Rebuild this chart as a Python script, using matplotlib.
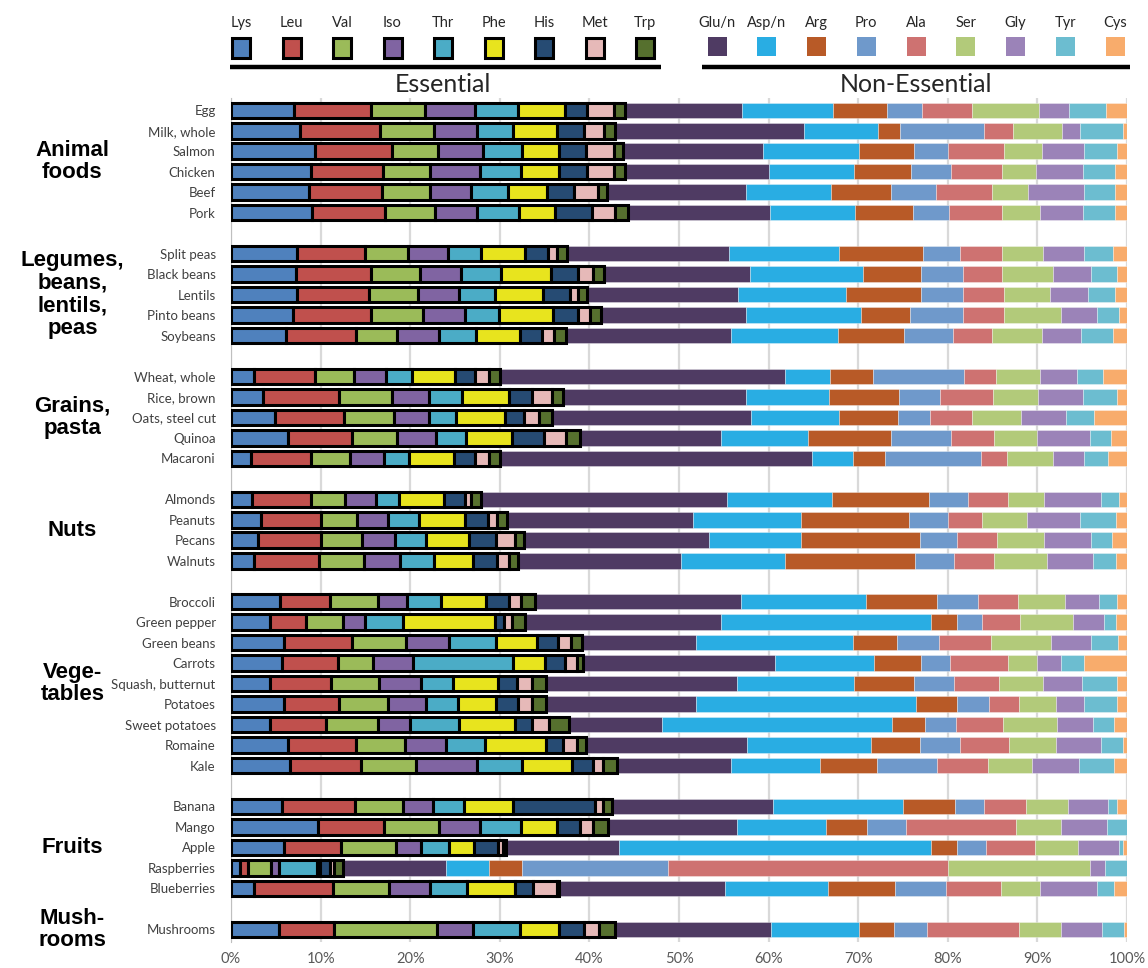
import numpy as np
import matplotlib
matplotlib.use("Agg")
import matplotlib.pyplot as plt
from matplotlib.patches import Rectangle

plt.rcParams['font.family'] = ['Lato', 'DejaVu Sans']

# food groups (label, number of foods)
group_labels = ["Animal\nfoods", "Legumes,\nbeans,\nlentils,\npeas", "Grains,\npasta", "Nuts",
                "Vege-\ntables", "Fruits", "Mush-\nrooms"]
group_sizes = [6, 5, 5, 4, 9, 5, 1]

foods = ["Egg", "Milk, whole", "Salmon", "Chicken", "Beef", "Pork",
         "Split peas", "Black beans", "Lentils", "Pinto beans", "Soybeans",
         "Wheat, whole", "Rice, brown", "Oats, steel cut", "Quinoa", "Macaroni",
         "Almonds", "Peanuts", "Pecans", "Walnuts",
         "Broccoli", "Green pepper", "Green beans", "Carrots", "Squash, butternut",
         "Potatoes", "Sweet potatoes", "Romaine", "Kale",
         "Banana", "Mango", "Apple", "Raspberries", "Blueberries",
         "Mushrooms"]

ess_names = ["Lys", "Leu", "Val", "Iso", "Thr", "Phe", "His", "Met", "Trp"]
ess_colors = ["#4f81bd", "#c0504d", "#9bbb59", "#8064a2", "#4bacc6",
              "#e8e41e", "#264b73", "#e6b9b8", "#56702e"]
non_names = ["Glu/n", "Asp/n", "Arg", "Pro", "Ala", "Ser", "Gly", "Tyr", "Cys"]
non_colors = ["#4f3b63", "#29ade3", "#b85a27", "#6f99cb", "#ce7271",
              "#b2ca7a", "#9b83b8", "#6cbdd0", "#f8ac6c"]

# % of total amino acids, in the order of `foods`
lys = [7.0, 7.7, 9.4, 8.9, 8.7, 9.05, 7.4, 7.2, 7.4, 6.95, 6.1, 2.55, 3.6, 4.9, 6.4, 2.2, 2.35, 3.4,
       3.05, 2.6, 5.5, 4.3, 5.9, 5.7, 4.3, 5.9, 4.3, 6.35, 6.6, 5.75, 9.75, 5.9, 1.05, 2.6, 5.4]
leu = [8.6, 8.9, 8.55, 8.0, 8.2, 8.2, 7.55, 8.4, 8.0, 8.65, 7.8, 6.8, 8.45, 7.75, 7.15, 6.7, 6.55, 6.6,
       7.0, 7.25, 5.5, 4.05, 7.6, 6.2, 6.9, 6.2, 6.35, 7.6, 7.9, 8.05, 7.3, 6.35, 0.85, 8.8, 6.05]
val = [6.1, 6.1, 5.2, 5.3, 5.3, 5.5, 4.85, 5.45, 5.45, 5.85, 4.65, 4.35, 5.95, 5.55, 5.0, 4.4, 3.8, 4.05,
       4.55, 5.05, 5.4, 4.2, 6.05, 3.95, 5.3, 5.45, 5.7, 5.5, 6.2, 5.45, 6.2, 6.2, 2.55, 6.2, 11.5]
iso = [5.5, 4.8, 4.95, 5.6, 4.55, 4.75, 4.45, 4.6, 4.65, 4.65, 4.65, 3.55, 4.1, 3.9, 4.3, 3.75, 3.45, 3.45,
       3.65, 3.95, 3.25, 2.4, 4.75, 4.5, 4.7, 4.2, 3.65, 4.5, 6.7, 3.3, 4.5, 2.75, 0.9, 4.6, 4.0]
thr = [4.8, 4.0, 4.35, 4.5, 4.2, 4.7, 3.7, 4.45, 4.0, 3.8, 4.1, 2.95, 3.65, 3.0, 3.35, 2.75, 2.6, 3.45,
       3.5, 3.8, 3.8, 4.3, 5.3, 11.1, 3.6, 3.6, 5.45, 4.35, 5.05, 3.45, 4.6, 3.1, 4.25, 4.15, 5.3]
phe = [5.3, 4.9, 4.2, 4.3, 4.3, 4.0, 4.85, 5.65, 5.3, 6.05, 4.9, 4.85, 5.3, 5.45, 5.2, 5.05, 5.0, 5.15,
       4.85, 4.4, 5.0, 10.2, 4.55, 3.6, 5.0, 4.25, 6.2, 6.85, 5.65, 5.5, 4.0, 2.85, 0.35, 5.3, 4.35]
his = [2.5, 3.0, 3.0, 3.1, 3.1, 4.1, 2.6, 3.0, 3.1, 2.8, 2.55, 2.15, 2.5, 2.1, 3.55, 2.3, 2.35, 2.5,
       3.0, 2.6, 2.55, 1.05, 2.35, 2.2, 2.1, 2.4, 1.95, 1.95, 2.25, 9.2, 2.6, 2.7, 1.1, 2.05, 2.75]
met = [3.0, 2.2, 3.1, 3.0, 2.65, 2.6, 0.95, 1.65, 0.85, 1.3, 1.25, 1.6, 2.3, 1.7, 2.5, 1.6, 0.7, 1.05,
       2.05, 1.4, 1.4, 0.85, 1.4, 1.4, 1.7, 1.6, 1.9, 1.5, 1.2, 0.8, 1.4, 0.5, 0.5, 2.6, 1.7]
trp = [1.2, 1.3, 1.05, 1.2, 0.95, 1.4, 1.1, 1.2, 1.0, 1.2, 1.4, 1.25, 1.2, 1.5, 1.5, 1.25, 1.05, 1.15,
       1.05, 1.05, 1.6, 1.45, 1.25, 0.7, 1.6, 1.6, 2.2, 1.05, 1.5, 1.05, 1.7, 0.4, 0.9, 0.3, 1.8]

glu = [13.1, 21.1, 15.6, 16.05, 15.55, 15.9, 18.15, 16.3, 16.9, 16.25, 18.4, 31.8, 20.45, 22.2, 15.75,
       34.8, 27.5, 20.75, 20.6, 18.15, 22.9, 21.9, 12.8, 21.35, 21.3, 16.7, 10.35, 17.9, 12.75, 17.95,
       14.4, 12.55, 11.5, 18.5, 17.4]
asp = [10.1, 8.2, 10.7, 9.5, 9.45, 9.5, 12.25, 12.6, 12.0, 12.8, 12.0, 5.05, 9.25, 9.8, 9.75, 4.6,
       11.65, 12.0, 10.3, 11.6, 14.0, 23.4, 17.5, 11.15, 13.0, 24.6, 25.65, 13.9, 9.95, 14.5, 9.95,
       34.9, 4.85, 11.45, 9.8]
arg = [6.1, 2.5, 6.1, 6.4, 6.7, 6.5, 9.35, 6.5, 8.4, 5.45, 7.3, 4.8, 7.8, 6.6, 9.25, 3.5, 10.85, 12.05,
       13.25, 14.5, 7.95, 2.95, 4.85, 5.25, 6.75, 4.55, 3.75, 5.5, 6.3, 5.85, 4.55, 2.9, 3.65, 7.5, 3.95]
pro = [3.9, 9.3, 3.8, 4.45, 5.1, 4.0, 4.2, 4.65, 4.65, 5.9, 5.45, 10.15, 4.55, 3.6, 6.7, 10.75, 4.4,
       4.3, 4.2, 4.4, 4.6, 2.75, 4.7, 3.15, 4.4, 3.6, 3.45, 4.4, 6.8, 3.25, 4.4, 3.15, 16.3, 5.7, 3.65]
ala = [5.5, 3.3, 6.3, 5.7, 6.25, 5.9, 4.65, 4.4, 4.65, 4.65, 4.4, 3.5, 5.85, 4.6, 4.8, 2.9, 4.4, 3.8,
       4.4, 4.4, 4.4, 4.3, 5.8, 6.5, 5.1, 3.25, 5.25, 5.5, 5.65, 4.7, 12.25, 5.5, 31.25, 6.05, 10.2]
ser = [7.5, 5.5, 4.25, 3.8, 4.05, 4.2, 4.6, 5.7, 5.05, 6.3, 5.6, 4.9, 5.05, 5.55, 4.85, 5.1, 4.0, 5.1,
       5.25, 6.0, 5.25, 5.85, 6.75, 3.3, 4.85, 4.2, 5.95, 5.25, 4.85, 4.7, 5.0, 4.85, 15.85, 4.4, 4.75]
gly = [3.4, 1.9, 4.7, 5.2, 6.25, 4.85, 4.6, 4.2, 4.35, 4.0, 4.35, 4.2, 5.05, 5.0, 5.9, 3.5, 6.35, 5.85,
       5.25, 5.15, 3.85, 3.45, 4.4, 2.65, 4.4, 3.15, 4.1, 4.95, 5.25, 4.4, 5.1, 4.55, 1.65, 6.35, 4.6]
tyr = [4.1, 4.8, 3.6, 3.6, 3.45, 3.6, 3.2, 2.9, 3.0, 2.5, 3.55, 2.9, 3.75, 3.15, 2.35, 2.6, 2.05, 4.05,
       2.35, 2.55, 2.0, 1.4, 3.05, 2.6, 3.9, 3.6, 2.35, 2.5, 4.0, 1.05, 2.25, 0.5, 2.5, 1.85, 2.4]
cys = [2.35, 0.5, 1.15, 1.3, 1.3, 1.3, 1.55, 1.15, 1.3, 0.9, 1.55, 2.65, 1.15, 3.65, 1.75, 2.15, 0.9,
       1.2, 1.7, 1.2, 1.1, 1.2, 1.0, 4.75, 1.1, 1.15, 1.4, 0.45, 1.4, 1.1, 0.0, 0.4, 0.0, 1.5, 0.35]

ess = np.array([lys, leu, val, iso, thr, phe, his, met, trp])
non = np.array([glu, asp, arg, pro, ala, ser, gly, tyr, cys])
scale = 100 / (ess.sum(axis=0) + non.sum(axis=0))
ess = ess * scale
non = non * scale

# row positions, with an empty row between groups
pos = []
group_centers = []
r = 0
for n in group_sizes:
    group_centers.append(r + (n - 1) / 2)
    pos.extend(range(r, r + n))
    r += n + 1
pos = np.array(pos)

fig = plt.figure(figsize=(11.48, 9.68), dpi=100)
ax = fig.add_axes([231 / 1148, 1 - 942 / 968, 896 / 1148, 844 / 968])

h = 0.76
left = ess.sum(axis=0)
for vals, c in zip(non, non_colors):
    ax.barh(pos, vals, left=left, height=h, color=c, edgecolor=(1, 1, 1, 0.6),
            linewidth=0.4, zorder=2)
    left = left + vals

left = np.zeros(len(foods))
for vals, c in zip(ess, ess_colors):
    ax.barh(pos, vals, left=left, height=h, color=c, edgecolor="black",
            linewidth=2.2, zorder=3)
    left = left + vals

ax.set_xlim(0, 100)
ax.set_ylim(40.62, -0.6)
ax.set_xticks(np.arange(0, 101, 10))
ax.set_xticklabels([f"{v}%" for v in range(0, 101, 10)])
ax.set_yticks(pos)
ax.set_yticklabels(foods)
ax.tick_params(axis="x", length=0, labelsize=10.5, colors="#595959", pad=7)
ax.tick_params(axis="y", length=0, labelsize=9.5, colors="#404040", pad=11)
ax.set_axisbelow(True)
ax.xaxis.grid(True, color="#d9d9d9", linewidth=1.6)
for s in ["top", "right", "bottom"]:
    ax.spines[s].set_visible(False)
ax.spines["left"].set_color("#bfbfbf")

for lab, yc in zip(group_labels, group_centers):
    ax.text(-0.177, yc, lab, transform=ax.get_yaxis_transform(), ha="center", va="center",
            fontsize=16, fontweight="bold", family="Liberation Sans", linespacing=1.1)

# legend in pixel coordinates
lg = fig.add_axes([0, 0, 1, 1])
lg.set_xlim(0, 1148)
lg.set_ylim(968, 0)
lg.axis("off")
lg.patch.set_alpha(0)

for i, (name, c) in enumerate(zip(ess_names, ess_colors)):
    x = 241 + i * 50.5
    lg.text(x, 23, name, ha="center", va="center", fontsize=10.5, color="#262626")
    lg.add_patch(Rectangle((x - 9, 37.5), 18, 20.5, facecolor=c, edgecolor="black", linewidth=2.2))
for i, (name, c) in enumerate(zip(non_names, non_colors)):
    x = 717 + i * 49.75
    lg.text(x, 23, name, ha="center", va="center", fontsize=10.5, color="#262626")
    lg.add_patch(Rectangle((x - 9.5, 37), 19, 19, facecolor=c, edgecolor="none"))

lg.plot([230, 661], [67, 67], color="black", linewidth=3.2, solid_capstyle="butt")
lg.plot([702, 1130], [67, 67], color="black", linewidth=3.2, solid_capstyle="butt")
lg.text(443, 84, "Essential", ha="center", va="center", fontsize=18, color="#262626")
lg.text(916, 84, "Non-Essential", ha="center", va="center", fontsize=18, color="#262626")

fig.savefig("out.png", dpi=100)
